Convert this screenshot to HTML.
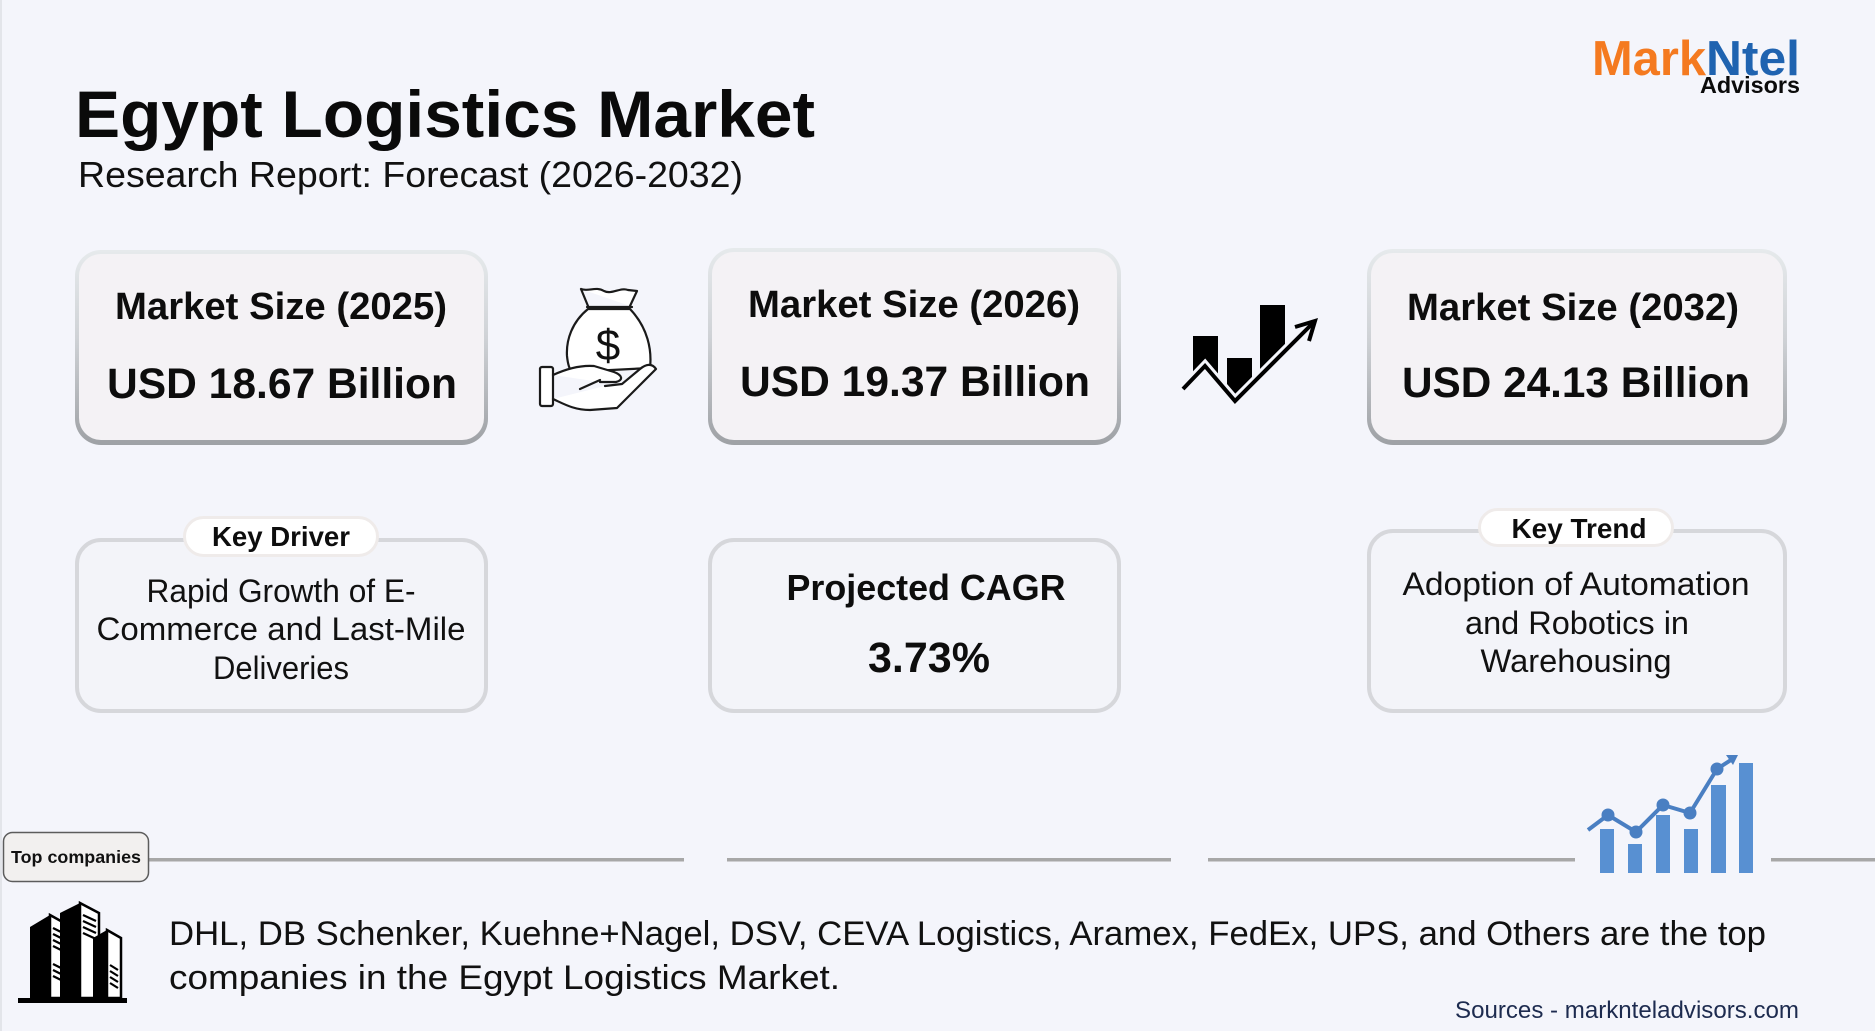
<!DOCTYPE html>
<html>
<head>
<meta charset="utf-8">
<style>
  html,body{margin:0;padding:0;background:#f4f5fb;}
  body{width:1875px;height:1031px;overflow:hidden;}
  svg{display:block;}
  text{font-family:"Liberation Sans", Arial, sans-serif;}
</style>
</head>
<body>
<svg width="1875" height="1031" viewBox="0 0 1875 1031" xmlns="http://www.w3.org/2000/svg">
  <defs>
    <linearGradient id="bord" x1="0" y1="0" x2="0" y2="1">
      <stop offset="0" stop-color="#e6eaec"/>
      <stop offset="0.45" stop-color="#cfd2d6"/>
      <stop offset="1" stop-color="#9ea1a5"/>
    </linearGradient>
  </defs>

  <rect x="0" y="0" width="1875" height="1031" fill="#f4f5fb"/>
  <rect x="0" y="0" width="2" height="1031" fill="#e3e5ea"/>

  <!-- Logo -->
  <text x="1592" y="75" font-size="49" font-weight="bold" fill="#f47a20" textLength="114" lengthAdjust="spacingAndGlyphs">Mark</text>
  <text x="1706" y="75" font-size="49" font-weight="bold" fill="#1f63b0" textLength="94" lengthAdjust="spacingAndGlyphs">Ntel</text>
  <text x="1800" y="93" font-size="23" font-weight="bold" fill="#0b0b0b" text-anchor="end" textLength="100" lengthAdjust="spacingAndGlyphs">Advisors</text>

  <!-- Title -->
  <text x="75" y="137" font-size="66" font-weight="bold" fill="#0a0a0a" textLength="740" lengthAdjust="spacingAndGlyphs">Egypt Logistics Market</text>
  <text x="78" y="187" font-size="36" fill="#111" textLength="665" lengthAdjust="spacingAndGlyphs">Research Report: Forecast (2026-2032)</text>

  <!-- Top cards -->
  <rect x="75" y="250" width="413" height="195" rx="26" fill="url(#bord)"/>
  <rect x="79" y="254" width="405" height="186" rx="22" fill="#f4f2f5"/>
  <rect x="708" y="248" width="413" height="197" rx="26" fill="url(#bord)"/>
  <rect x="712" y="252" width="405" height="188" rx="22" fill="#f4f2f5"/>
  <rect x="1367" y="249" width="420" height="196" rx="26" fill="url(#bord)"/>
  <rect x="1371" y="253" width="412" height="187" rx="22" fill="#f4f2f5"/>

  <text x="281" y="319" font-size="38" font-weight="bold" fill="#0d0d0d" text-anchor="middle" textLength="332" lengthAdjust="spacingAndGlyphs">Market Size (2025)</text>
  <text x="282" y="398" font-size="43" font-weight="bold" fill="#0d0d0d" text-anchor="middle" textLength="350" lengthAdjust="spacingAndGlyphs">USD 18.67 Billion</text>

  <text x="914" y="317" font-size="38" font-weight="bold" fill="#0d0d0d" text-anchor="middle" textLength="332" lengthAdjust="spacingAndGlyphs">Market Size (2026)</text>
  <text x="915" y="396" font-size="43" font-weight="bold" fill="#0d0d0d" text-anchor="middle" textLength="350" lengthAdjust="spacingAndGlyphs">USD 19.37 Billion</text>

  <text x="1573" y="320" font-size="38" font-weight="bold" fill="#0d0d0d" text-anchor="middle" textLength="332" lengthAdjust="spacingAndGlyphs">Market Size (2032)</text>
  <text x="1576" y="397" font-size="43" font-weight="bold" fill="#0d0d0d" text-anchor="middle" textLength="348" lengthAdjust="spacingAndGlyphs">USD 24.13 Billion</text>

  <!-- Money bag icon -->
  <g fill="none" stroke="#1a1a1a" stroke-width="2.2" stroke-linecap="round" stroke-linejoin="round">
    <path d="M581,289 C588,292 596,286 604,291 C612,295 620,287 628,290 L637,291 L630,306 M581,289 L588,306" fill="#fff"/>
    <path d="M587,307 L632,307"/>
    <path d="M588,309 C572,322 566,340 567,356 C568,366 570,370 572,372 L650,368 C652,350 648,328 630,309 Z" fill="#fff"/>
    <rect x="540" y="367" width="13" height="39" rx="2" fill="#fff"/>
    <path d="M553,375 C566,369 580,365 594,366 L614,372 C622,375 624,380 616,382 L600,382" fill="#fff"/>
    <path d="M553,399 C564,404 574,410 590,410 L617,408 L656,369 C652,363 646,364 640,369 L622,384 L605,386" fill="#fff"/>
    <path d="M580,389 L600,380"/>
  </g>
  <text x="608" y="360" font-size="44" fill="#111" text-anchor="middle">$</text>

  <!-- Growth chart icon -->
  <g fill="#000">
    <polygon points="1193,336 1218,336 1218,381 1205,366 1193,379"/>
    <polygon points="1227,358 1252,358 1252,384 1235,401 1227,392"/>
    <polygon points="1260,305 1285,305 1285,351 1260,376"/>
  </g>
  <polyline points="1183,389 1205,366 1235,401 1313,323" fill="none" stroke="#f4f5fb" stroke-width="10" stroke-linejoin="miter"/>
  <polyline points="1183,389 1205,366 1235,401 1313,323" fill="none" stroke="#000" stroke-width="4" stroke-linejoin="miter"/>
  <polyline points="1295,327 1315,321 1309,341" fill="none" stroke="#000" stroke-width="4" stroke-linejoin="miter"/>

  <!-- Row 2 cards -->
  <rect x="77" y="540" width="409" height="171" rx="24" fill="#f3f4f9" stroke="#d6d7db" stroke-width="4"/>
  <rect x="710" y="540" width="409" height="171" rx="24" fill="#f3f4f9" stroke="#d6d7db" stroke-width="4"/>
  <rect x="1369" y="531" width="416" height="180" rx="24" fill="#f3f4f9" stroke="#d6d7db" stroke-width="4"/>

  <!-- Pills -->
  <rect x="184.5" y="517.5" width="193" height="38" rx="19" fill="#ffffff" stroke="#efebea" stroke-width="3"/>
  <text x="281" y="546" font-size="27.5" font-weight="bold" fill="#0d0d0d" text-anchor="middle" textLength="138" lengthAdjust="spacingAndGlyphs">Key Driver</text>
  <rect x="1479.5" y="509.5" width="193" height="36" rx="18" fill="#ffffff" stroke="#efebea" stroke-width="3"/>
  <text x="1579" y="538" font-size="27.5" font-weight="bold" fill="#0d0d0d" text-anchor="middle" textLength="135" lengthAdjust="spacingAndGlyphs">Key Trend</text>

  <!-- Driver text -->
  <text x="281" y="602" font-size="32" fill="#111" text-anchor="middle" textLength="269" lengthAdjust="spacingAndGlyphs">Rapid Growth of E-</text>
  <text x="281" y="640" font-size="32" fill="#111" text-anchor="middle" textLength="369" lengthAdjust="spacingAndGlyphs">Commerce and Last-Mile</text>
  <text x="281" y="679" font-size="32" fill="#111" text-anchor="middle" textLength="136" lengthAdjust="spacingAndGlyphs">Deliveries</text>

  <!-- CAGR -->
  <text x="926" y="600" font-size="36" font-weight="bold" fill="#0d0d0d" text-anchor="middle" textLength="279" lengthAdjust="spacingAndGlyphs">Projected CAGR</text>
  <text x="929" y="672" font-size="43" font-weight="bold" fill="#0d0d0d" text-anchor="middle" textLength="122" lengthAdjust="spacingAndGlyphs">3.73%</text>

  <!-- Trend text -->
  <text x="1576" y="595" font-size="32" fill="#111" text-anchor="middle" textLength="347" lengthAdjust="spacingAndGlyphs">Adoption of Automation</text>
  <text x="1577" y="634" font-size="32" fill="#111" text-anchor="middle" textLength="224" lengthAdjust="spacingAndGlyphs">and Robotics in</text>
  <text x="1576" y="672" font-size="32" fill="#111" text-anchor="middle" textLength="191" lengthAdjust="spacingAndGlyphs">Warehousing</text>

  <!-- Divider lines -->
  <g fill="#a7a7a7">
    <rect x="149" y="858" width="535" height="3.5"/>
    <rect x="727" y="858" width="444" height="3.5"/>
    <rect x="1208" y="858" width="367" height="3.5"/>
    <rect x="1771" y="858" width="104" height="3.5"/>
  </g>

  <!-- Top companies label -->
  <rect x="3.5" y="832.5" width="145" height="49" rx="9" fill="#f2f0ef" stroke="#5c5c5c" stroke-width="1.5"/>
  <text x="76" y="863" font-size="17.5" font-weight="bold" fill="#111" text-anchor="middle" textLength="130" lengthAdjust="spacingAndGlyphs">Top companies</text>

  <!-- Blue chart icon -->
  <g fill="#5890d2">
    <rect x="1600" y="829" width="14" height="44"/>
    <rect x="1628" y="844" width="14" height="29"/>
    <rect x="1656" y="815" width="14" height="58"/>
    <rect x="1684" y="829" width="14" height="44"/>
    <rect x="1711" y="785" width="15" height="88"/>
    <rect x="1739" y="763" width="14" height="110"/>
  </g>
  <polyline points="1588,830 1608,815 1636,832 1663,805 1690,813 1717,769 1734,758" fill="none" stroke="#4a7fc2" stroke-width="4" stroke-linejoin="round"/>
  <polygon points="1738,755 1726,755 1733,765" fill="#4a7fc2"/>
  <g fill="#4a7fc2">
    <circle cx="1608" cy="815" r="6.5"/>
    <circle cx="1636" cy="832" r="6.5"/>
    <circle cx="1663" cy="805" r="6.5"/>
    <circle cx="1690" cy="813" r="6.5"/>
    <circle cx="1717" cy="769" r="6.5"/>
  </g>

  <!-- Buildings icon -->
  <g>
    <rect x="18" y="998" width="109" height="5" fill="#000"/>
    <polygon points="30,927 50,915 50,998 30,998" fill="#000"/>
    <polygon points="50,915 68,925 68,998 50,998" fill="#fff" stroke="#000" stroke-width="2.5"/>
    <polygon points="60,913 80,903 80,998 60,998" fill="#000"/>
    <polygon points="80,903 99,913 99,998 80,998" fill="#fff" stroke="#000" stroke-width="2.5"/>
    <polygon points="93,938 107,930 107,998 93,998" fill="#000"/>
    <polygon points="107,930 121,938 121,998 107,998" fill="#fff" stroke="#000" stroke-width="2.5"/>
    <g stroke="#000" stroke-width="2.2">
      <line x1="53" y1="928" x2="65" y2="934"/>
      <line x1="53" y1="934" x2="65" y2="940"/>
      <line x1="53" y1="940" x2="65" y2="946"/>
      <line x1="53" y1="946" x2="65" y2="952"/>
      <line x1="53" y1="964" x2="65" y2="970"/>
      <line x1="53" y1="970" x2="65" y2="976"/>
      <line x1="53" y1="976" x2="65" y2="982"/>
      <line x1="83" y1="915" x2="96" y2="921"/>
      <line x1="83" y1="921" x2="96" y2="927"/>
      <line x1="83" y1="927" x2="96" y2="933"/>
      <line x1="83" y1="933" x2="96" y2="939"/>
      <line x1="110" y1="965" x2="118" y2="970"/>
      <line x1="110" y1="971" x2="118" y2="976"/>
      <line x1="110" y1="977" x2="118" y2="982"/>
      <line x1="110" y1="983" x2="118" y2="988"/>
    </g>
  </g>

  <!-- Companies text -->
  <text x="169" y="945" font-size="34.5" fill="#111" textLength="1597" lengthAdjust="spacingAndGlyphs">DHL, DB Schenker, Kuehne+Nagel, DSV, CEVA Logistics, Aramex, FedEx, UPS, and Others are the top</text>
  <text x="169" y="989" font-size="34.5" fill="#111" textLength="671" lengthAdjust="spacingAndGlyphs">companies in the Egypt Logistics Market.</text>

  <!-- Sources -->
  <text x="1799" y="1018" font-size="24" fill="#1d2b4f" text-anchor="end" textLength="344" lengthAdjust="spacingAndGlyphs">Sources - marknteladvisors.com</text>
</svg>
</body>
</html>
